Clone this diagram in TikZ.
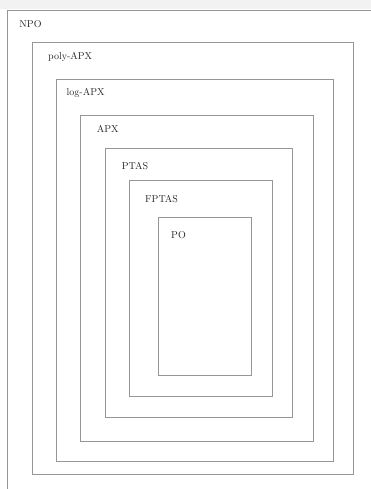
\documentclass[tikz,border=0pt]{standalone}
\usetikzlibrary{positioning}
\definecolor{boxgray}{RGB}{150,150,150}
\definecolor{bandgray}{RGB}{242,242,242}

\begin{document}
\begin{tikzpicture}[x=1pt, y=-1pt,
  box/.style={draw=boxgray, line width=0.8pt},
  label/.style={anchor=base west, inner sep=0pt, text=black!85},
]
  \useasboundingbox (0,0) rectangle (371,489);
  \clip (0,0) rectangle (371,489);
  \fill[bandgray] (0,0) rectangle (371,9);

  % ---- Nested classes, outermost first ----
  \draw[box] (7,10) rectangle (385,505);                 % NPO, runs off the page
    \node[label] (npo) at (19.3,27.3) {NPO};
  \draw[box] (32,42) rectangle (353.5,474);              % poly-APX
    \node[label] (polyapx) at (48,60) {poly-APX};
  \draw[box] (56,79) rectangle (333,461.5);              % log-APX
    \node[label] (logapx) at (66.5,96) {log-APX};
  \draw[box] (80.3,115.3) rectangle (313,441);           % APX
    \node[label] (apx) at (96.7,133) {APX};
  \draw[box] (105.3,148.3) rectangle (292.7,417);        % PTAS
    \node[label] (ptas) at (121.7,169) {PTAS};
  \draw[box] (129.3,180.7) rectangle (272.3,396.3);      % FPTAS
    \node[label] (fptas) at (145,202) {FPTAS};
  \draw[box] (158.3,217.3) rectangle (251.7,375.7);      % PO
    \node[label] (po) at (171,238) {PO};
\end{tikzpicture}
\end{document}
